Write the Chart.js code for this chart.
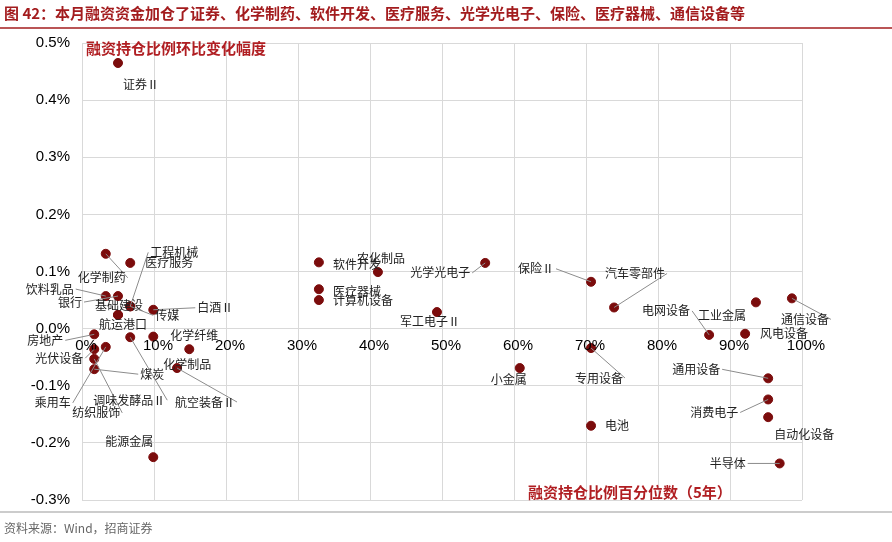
<!DOCTYPE html>
<html><head><meta charset="utf-8">
<script src="https://cdn.jsdelivr.net/npm/chart.js@4"></script>
<style>
body{margin:0;background:#fff;font-family:"Noto Sans CJK SC",sans-serif}
#wrap{position:relative;width:892px;height:542px}
</style></head><body>
<div id="wrap"><canvas id="c" width="892" height="542"></canvas></div>
<script>
// ---------- Data (x: 5-year percentile %, y: change in margin holding ratio %) ----------
const names = ["证券Ⅱ","化学制药","医疗服务","饮料乳品","银行","工程机械","航运港口","白酒Ⅱ",
  "房地产","光伏设备","纺织服饰","煤炭","乘用车","调味发酵品Ⅱ","化学纤维","化学制品","航空装备Ⅱ","能源金属",
  "基础建设","传媒",
  "软件开发","农化制品","光学光电子","保险Ⅱ","医疗器械","计算机设备","军工电子Ⅱ","汽车零部件","专用设备","小金属","电池",
  "电网设备","风电设备","工业金属","通信设备","通用设备","消费电子","自动化设备","半导体"];
const xPct = [5.0,3.3,6.7,3.3,5.0,6.7,5.0,9.9,
  1.7,1.7,1.7,1.7,3.3,6.7,9.9,14.9,13.2,9.9,
  5.0,6.7,
  32.9,41.1,56.0,70.7,32.9,32.9,49.3,73.9,70.7,60.8,70.7,
  87.1,92.1,93.6,98.6,95.3,95.3,95.3,96.9];
const yPct = [0.465,0.131,0.115,0.057,0.057,0.039,0.024,0.033,
  -0.010,-0.036,-0.053,-0.071,-0.032,-0.015,-0.014,-0.036,-0.069,-0.225,
  0.024,0.039,
  0.116,0.099,0.115,0.082,0.069,0.050,0.029,0.037,-0.034,-0.069,-0.170,
  -0.011,-0.009,0.046,0.053,-0.087,-0.124,-0.155,-0.236];
// label offsets in px [dx, dy, leader]
const labelOff = [[5,21,0],[-28,24,1],[15,0,0],[-80,-7,1],[-60,6,1],[20,-54,1],[-19,10,0],[44,-2,1],
  [-67,6,1],[-59,9,1],[-22,54,1],[46,5,1],[-71,56,1],[-37,63,1],[17,-1,0],[-26,15,0],[-2,34,1],[-48,-16,0],
  [-23,-9,0],[25,9,1],
  [14,2,0],[-21,-14,0],[-75,10,1],[-73,-13,1],[14,2,0],[14,0,0],[-37,9,0],[-9,-34,1],[-16,30,1],[-29,11,0],[14,0,0],
  [-67,-24,1],[15,0,0],[-58,13,0],[-11,21,1],[-96,-9,1],[-78,13,1],[6,17,0],[-70,0,1]];
const xTicks = [0,10,20,30,40,50,60,70,80,90,100];
const yTicks = [0.5,0.4,0.3,0.2,0.1,0.0,-0.1,-0.2,-0.3];

const RED = "#7b0c0c", TITLE = "#a31c1e";
const cjk = '"Noto Sans CJK SC"';

const labelPlugin = {
  id: "labels",
  afterDatasetsDraw(chart) {
    const {ctx, scales: {x, y}} = chart;
    ctx.save();
    // x tick labels along the zero line
    ctx.font = "15px Liberation Sans"; ctx.fillStyle = "#000"; ctx.textAlign = "center"; ctx.textBaseline = "top";
    xTicks.forEach(t => ctx.fillText(t + "%", x.getPixelForValue(t) + 4, y.getPixelForValue(0) + 10));
    // point labels
    ctx.font = "12px " + cjk; ctx.textAlign = "left"; ctx.textBaseline = "middle";
    names.forEach((n, i) => {
      const px = x.getPixelForValue(xPct[i]), py = y.getPixelForValue(yPct[i]);
      const [dx, dy, lead] = labelOff[i];
      const tx = px + dx, ty = py + dy;
      if (lead) {
        ctx.strokeStyle = "#8c8c8c"; ctx.lineWidth = 1;
        ctx.beginPath(); ctx.moveTo(px, py);
        const w = ctx.measureText(n).width;
        const ex = dx < 0 ? tx + w + 2 : tx - 2;
        ctx.lineTo(ex, ty); ctx.stroke();
      }
      ctx.fillStyle = "#222"; ctx.fillText(n, tx, ty);
    });
    // axis titles
    ctx.font = "bold 15px " + cjk; ctx.fillStyle = "#b01e22";
    ctx.fillText("融资持仓比例环比变化幅度", 86, 48);
    ctx.fillText("融资持仓比例百分位数（5年）", 528, 492);
    // header & footer
    ctx.font = "bold 15px " + cjk; ctx.fillStyle = TITLE;
    ctx.fillText("图 42：本月融资资金加仓了证券、化学制药、软件开发、医疗服务、光学光电子、保险、医疗器械、通信设备等", 4, 13);
    ctx.strokeStyle = TITLE; ctx.lineWidth = 1.5;
    ctx.beginPath(); ctx.moveTo(0, 28); ctx.lineTo(892, 28); ctx.stroke();
    ctx.strokeStyle = "#999"; ctx.lineWidth = 1;
    ctx.beginPath(); ctx.moveTo(0, 512); ctx.lineTo(892, 512); ctx.stroke();
    ctx.font = "12px " + cjk; ctx.fillStyle = "#666";
    ctx.fillText("资料来源：Wind，招商证券", 4, 528);
    ctx.restore();
  }
};

new Chart(document.getElementById("c"), {
  type: "scatter",
  data: { datasets: [{ data: xPct.map((v, i) => ({x: v, y: yPct[i]})),
    backgroundColor: RED, borderColor: RED, pointRadius: 4.5, pointHoverRadius: 4.5 }] },
  options: {
    responsive: false, animation: false,
    layout: { padding: { top: 43, bottom: 42, right: 90, left: 0 } },
    plugins: { legend: { display: false }, tooltip: { enabled: false } },
    scales: {
      x: { min: 0, max: 100, afterFit: s => { s.height = 0; },
        ticks: { display: false, stepSize: 10 }, grid: { color: "#d9d9d9", drawTicks: false }, border: { display: false } },
      y: { min: -0.3, max: 0.5, afterFit: s => { s.width = 82; },
        afterBuildTicks: s => { s.ticks = yTicks.map(v => ({value: v})); },
        ticks: { callback: v => v.toFixed(1) + "%", font: { family: "Liberation Sans", size: 15 }, color: "#000", padding: 12 },
        grid: { color: "#d9d9d9", drawTicks: false }, border: { display: false } }
    }
  },
  plugins: [labelPlugin]
});
</script>
</body></html>
